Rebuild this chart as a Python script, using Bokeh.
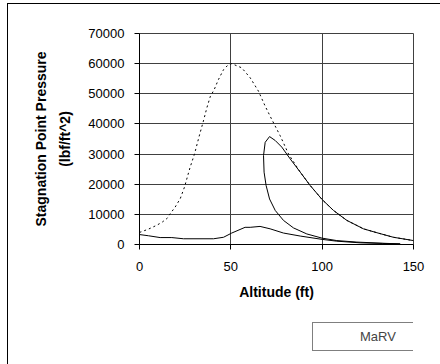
from bokeh.plotting import figure
from bokeh.models import Range1d, FixedTicker, Legend, LegendItem
from bokeh.layouts import column
from bokeh.embed import file_html
from bokeh.resources import INLINE

# MaRV trajectory (single connected series): descent to peak, pull-up loop, final descent
marv_alt = [150, 139, 130, 122.6, 113.5, 106.2, 100, 93.4, 88, 82.5, 77.9, 74.3, 71.2,
            68.8, 67.9, 68.2, 69.3, 71.2, 74.3, 78.8, 84.3, 91.6, 100, 108, 119, 133.6, 142.7,
            133, 120.8, 108, 100, 88, 78.8, 71.5, 66, 60.6, 57.8, 50.5, 46, 40.5, 24.1, 17.7, 11.3, 4.9, 0]
marv_p = [1300, 2400, 3900, 5200, 8000, 11300, 14900, 19600, 24000, 28400, 32300, 34500, 35800,
          33900, 29500, 24000, 19600, 15100, 11300, 8000, 5500, 3500, 2100, 1300, 800, 400, 200,
          350, 550, 1100, 1700, 2800, 3800, 5200, 6000, 5700, 5700, 3800, 2400, 1900, 1900, 2300, 2300, 2900, 3300]

# Ballistic trajectory
ball_alt = [0, 0.9, 4.9, 9.5, 12.6, 15, 16.8, 19.5, 22.3, 24.6, 27.7, 30.1, 32.7, 35, 36.9, 38.7,
            40.9, 43.2, 46, 48.7, 50.5, 56, 60.6, 65.1, 68.8, 72.4, 77, 81.6, 88, 93.4, 100,
            106.2, 113.5, 122.6, 130, 139, 150]
ball_p = [4000, 4200, 5100, 6400, 7500, 8600, 10200, 12400, 15200, 19000, 25600, 30000, 36000, 41000,
          45400, 49000, 51400, 54700, 58000, 59700, 60000, 58600, 55300, 50900, 45900, 41500, 36100,
          30000, 24000, 19600, 14900, 11300, 8000, 5200, 3900, 2400, 1300]

x_ticks = [0, 50, 100, 150]
y_ticks = [0, 10000, 20000, 30000, 40000, 50000, 60000, 70000]
series_names = ["MaRV", "Ballistic"]

FONT = "Liberation Sans"

p = figure(frame_width=274, frame_height=211, min_border_left=131, min_border_right=27,
           min_border_top=29, min_border_bottom=70,
           x_range=Range1d(0, 150), y_range=Range1d(0, 70000),
           output_backend="svg", toolbar_location=None)

p.outline_line_color = "#404040"
p.background_fill_color = "white"
p.border_fill_color = "white"

for ax in (p.xaxis[0], p.yaxis[0]):
    ax.axis_line_color = "black"
    ax.major_tick_line_color = "black"
    ax.major_tick_out = 5
    ax.major_tick_in = 0
    ax.minor_tick_line_color = None
    ax.major_label_text_font = FONT
    ax.major_label_text_font_size = "13px"
    ax.major_label_text_color = "black"
    ax.axis_label_text_font = FONT
    ax.axis_label_text_font_size = "14px"
    ax.axis_label_text_font_style = "bold"
    ax.axis_label_text_color = "black"

p.xaxis.ticker = FixedTicker(ticks=x_ticks)
p.yaxis.ticker = FixedTicker(ticks=y_ticks)
p.yaxis.formatter.use_scientific = False
p.xaxis.major_label_standoff = 12
p.yaxis.major_label_standoff = 10
p.xaxis.axis_label = "Altitude (ft)"
p.xaxis.axis_label_standoff = 10
p.yaxis.axis_label = "Stagnation Point Pressure\n(lbf/ft^2)"
p.yaxis.axis_label_standoff = 12
p.yaxis.axis_label_text_line_height = 1.5

p.xgrid.ticker = FixedTicker(ticks=x_ticks)
p.ygrid.ticker = FixedTicker(ticks=y_ticks)
p.xgrid.grid_line_color = "#404040"
p.ygrid.grid_line_color = "#404040"
p.xgrid.grid_line_width = 1
p.ygrid.grid_line_width = 1

p.line(marv_alt, marv_p, line_color="black", line_width=1)
p.line(ball_alt, ball_p, line_color="black", line_width=1, line_dash="2 3")

# legend strip below the chart
p2 = figure(width=432, height=50, x_axis_type=None, y_axis_type=None, min_border=0,
            output_backend="svg", toolbar_location=None)
p2.outline_line_color = None
p2.background_fill_color = "white"
p2.border_fill_color = "white"
k_marv = p2.line(x=[], y=[], line_color="black", line_width=1)
k_ball = p2.line(x=[], y=[], line_color="black", line_width=1, line_dash="2 3")

legend = Legend(items=[LegendItem(label=series_names[0], renderers=[k_marv]),
                       LegendItem(label=series_names[1], renderers=[k_ball])],
                orientation="horizontal", location=(173, 13), margin=0,
                padding=6, spacing=13, glyph_width=38, glyph_height=15,
                label_standoff=3, label_height=15,
                label_text_font=FONT, label_text_font_size="13px",
                border_line_color="black", border_line_width=1,
                background_fill_color="white", background_fill_alpha=1)
p2.add_layout(legend, "center")

layout = column(p, p2, spacing=0,
                styles={"border-left": "1px solid black", "border-top": "1px solid black",
                        "margin-left": "7px", "margin-top": "3px"})

open("out.html", "w").write(file_html(layout, INLINE))
